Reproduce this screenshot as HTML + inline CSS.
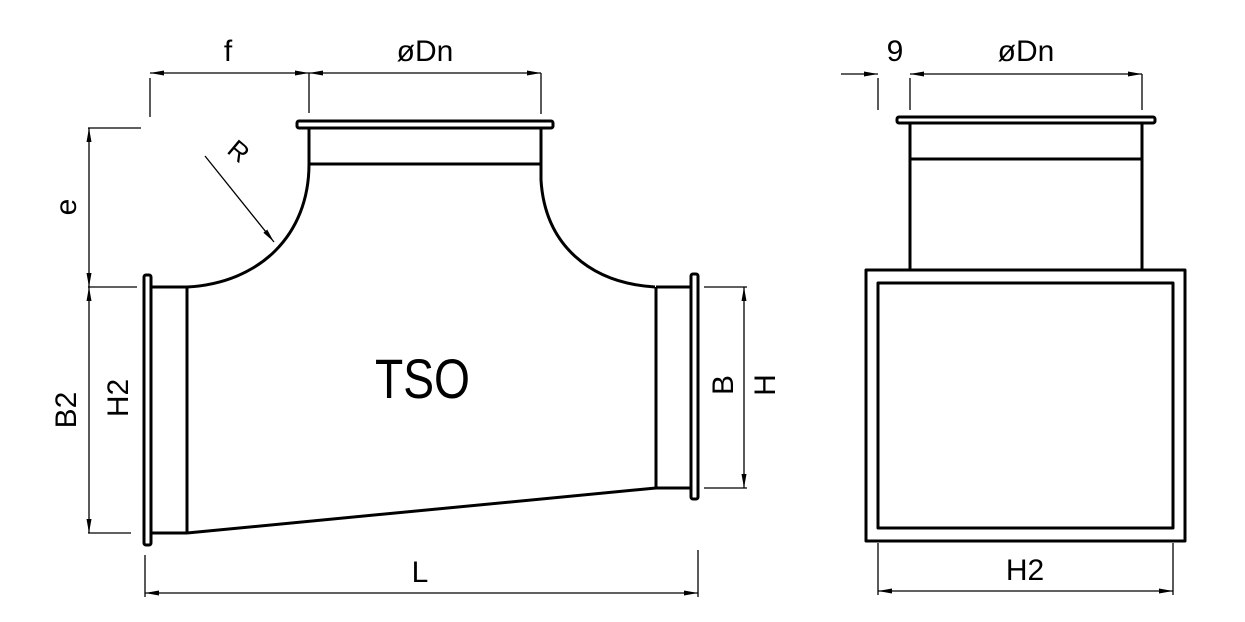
<!DOCTYPE html>
<html><head><meta charset="utf-8"><style>
html,body{margin:0;padding:0;background:#fff;}
svg{display:block;}
text{font-family:"Liberation Sans",sans-serif;fill:#000;font-size:30px;}
</style></head><body>
<svg width="1245" height="622" viewBox="0 0 1245 622" xmlns="http://www.w3.org/2000/svg">
<defs>
<marker id="a" viewBox="0 0 14 6" refX="14" refY="3" markerWidth="14" markerHeight="6" markerUnits="userSpaceOnUse" orient="auto-start-reverse">
<path d="M0,0.5 L14,3 L0,5.5 Z" fill="#000"/>
</marker>
</defs>
<g fill="none" stroke="#000" stroke-width="1.3">
<line x1="150" y1="78" x2="150" y2="117"/>
<line x1="309" y1="73" x2="309" y2="113"/>
<line x1="541" y1="73" x2="541" y2="114"/>
<line x1="150" y1="73" x2="309" y2="73" marker-start="url(#a)" marker-end="url(#a)"/>
<line x1="309" y1="73" x2="541" y2="73" marker-start="url(#a)" marker-end="url(#a)"/>
<line x1="88" y1="128" x2="141" y2="128"/>
<line x1="88" y1="287" x2="137" y2="287"/>
<line x1="88" y1="533" x2="131" y2="533"/>
<line x1="89" y1="128" x2="89" y2="287" marker-start="url(#a)" marker-end="url(#a)"/>
<line x1="89" y1="287" x2="89" y2="533" marker-start="url(#a)" marker-end="url(#a)"/>
<line x1="704" y1="287" x2="747" y2="287"/>
<line x1="704" y1="488" x2="747" y2="488"/>
<line x1="744" y1="287" x2="744" y2="488" marker-start="url(#a)" marker-end="url(#a)"/>
<line x1="145" y1="555" x2="145" y2="597"/>
<line x1="698" y1="550" x2="698" y2="597"/>
<line x1="145" y1="593" x2="698" y2="593" marker-start="url(#a)" marker-end="url(#a)"/>
<line x1="205" y1="156" x2="274" y2="242" marker-end="url(#a)"/>
<line x1="878" y1="78" x2="878" y2="110"/>
<line x1="910" y1="78" x2="910" y2="110"/>
<line x1="1142" y1="74" x2="1142" y2="110"/>
<line x1="841" y1="74" x2="878" y2="74" marker-end="url(#a)"/>
<line x1="910" y1="74" x2="1142" y2="74" marker-start="url(#a)" marker-end="url(#a)"/>
<line x1="878" y1="543" x2="878" y2="595"/>
<line x1="1173" y1="543" x2="1173" y2="595"/>
<line x1="878" y1="591" x2="1173" y2="591" marker-start="url(#a)" marker-end="url(#a)"/>
</g>
<g fill="none" stroke="#000" stroke-width="3" stroke-linejoin="round">
<rect x="297" y="121" width="256" height="7" rx="2"/>
<line x1="309" y1="128" x2="309" y2="164"/>
<line x1="541" y1="128" x2="541" y2="164"/>
<line x1="309" y1="164" x2="541" y2="164"/>
<path d="M309,164 C309,235 260,283 187,287"/>
<path d="M541,164 L541,180 C545,245 590,283 655,287"/>
<rect x="144" y="275" width="7" height="270" rx="2"/>
<line x1="151" y1="287" x2="187" y2="287"/>
<line x1="151" y1="533" x2="187" y2="533"/>
<line x1="187" y1="287" x2="187" y2="533"/>
<line x1="187" y1="533" x2="656" y2="488"/>
<line x1="656" y1="287" x2="656" y2="488"/>
<line x1="656" y1="287" x2="691" y2="287"/>
<line x1="656" y1="488" x2="691" y2="488"/>
<rect x="691" y="274" width="7" height="225" rx="2"/>
<rect x="897" y="117" width="258" height="6" rx="2"/>
<line x1="910" y1="123" x2="910" y2="270"/>
<line x1="1142" y1="123" x2="1142" y2="270"/>
<line x1="910" y1="159" x2="1142" y2="159"/>
<rect x="866" y="270" width="319" height="271"/>
<rect x="878" y="283" width="295" height="245"/>
</g>
<g>
<text x="228" y="61" text-anchor="middle">f</text>
<text x="425" y="61" text-anchor="middle">øDn</text>
<text x="895" y="61" text-anchor="middle">9</text>
<text x="1026" y="61" text-anchor="middle">øDn</text>
<text x="420" y="582" text-anchor="middle">L</text>
<text x="1025" y="580" text-anchor="middle">H2</text>
<text x="375" y="398" textLength="95" lengthAdjust="spacingAndGlyphs" style="font-size:56px">TSO</text>
<text transform="translate(76,207) rotate(-90)" text-anchor="middle">e</text>
<text transform="translate(76,410) rotate(-90)" text-anchor="middle">B2</text>
<text transform="translate(128,398) rotate(-90)" text-anchor="middle">H2</text>
<text transform="translate(733,385) rotate(-90)" text-anchor="middle">B</text>
<text transform="translate(775,385) rotate(-90)" text-anchor="middle">H</text>
<text transform="translate(233,158) rotate(40)" text-anchor="middle" style="font-size:26px">R</text>
</g>
</svg>
</body></html>
